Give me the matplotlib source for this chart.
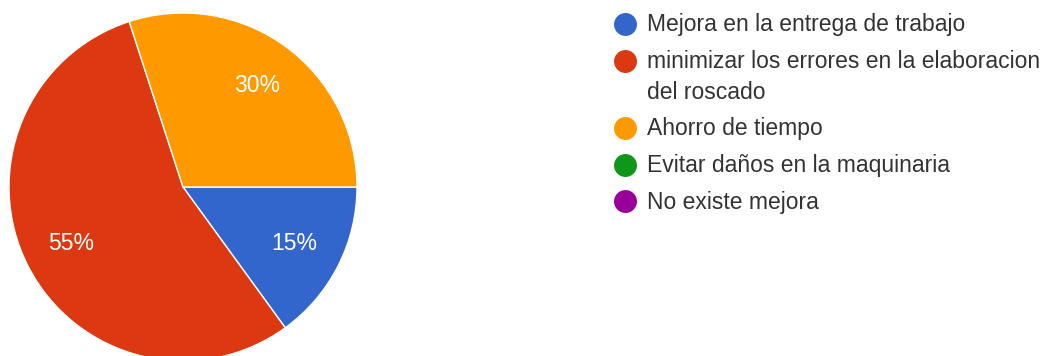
import matplotlib
matplotlib.use("Agg")
import matplotlib.pyplot as plt

# Survey answers (Google Forms style pie)
labels = [
    "Mejora en la entrega de trabajo",
    "minimizar los errores en la elaboracion\ndel roscado",
    "Ahorro de tiempo",
    "Evitar daños en la maquinaria",
    "No existe mejora",
]
values = [15, 55, 30, 0, 0]
colors = ["#3366cc", "#dc3912", "#ff9900", "#109618", "#990099"]

plt.rcParams["font.family"] = ["Liberation Sans", "DejaVu Sans"]

W, H = 1041, 356
fig = plt.figure(figsize=(W / 100, H / 100), dpi=100)

# pie axes: center (183, 187) px from top-left, radius 174 px
cx, cy, r = 183, 187, 174
ax = fig.add_axes([(cx - r) / W, (H - cy - r) / H, 2 * r / W, 2 * r / H])
shown = [(v, c) for v, c in zip(values, colors) if v > 0]
wedges, _, autotexts = ax.pie(
    [v for v, _ in shown],
    colors=[c for _, c in shown],
    startangle=0,
    counterclock=False,
    autopct="%1.0f%%",
    pctdistance=0.72,
    wedgeprops=dict(edgecolor="white", linewidth=1),
    textprops=dict(color="white", fontsize=16.5),
)
ax.set_xlim(-1, 1)
ax.set_ylim(-1, 1)

# legend drawn in pixel coordinates
lax = fig.add_axes([0, 0, 1, 1])
lax.set_xlim(0, W)
lax.set_ylim(H, 0)
lax.axis("off")
y = 24
for lab, col in zip(labels, colors):
    lines = lab.split("\n")
    lax.plot(625, y, "o", ms=15.5, color=col, mec=col)
    for k, line in enumerate(lines):
        lax.text(647, y + 31 * k + 1, line, fontsize=16.5, color="#333333",
                 va="center", ha="left")
    y += 36.5 + 31 * (len(lines) - 1)

fig.savefig("out.png", dpi=100)
